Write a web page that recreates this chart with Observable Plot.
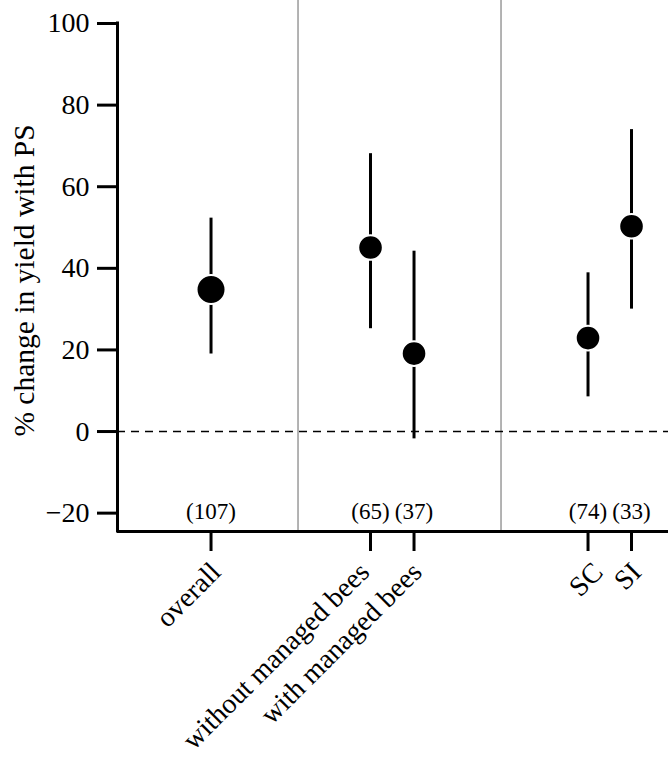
<!DOCTYPE html>
<html><head><meta charset="utf-8">
<script src="https://cdn.jsdelivr.net/npm/d3@7"></script>
<script src="https://cdn.jsdelivr.net/npm/@observablehq/plot@0.6"></script>
<style>body{margin:0;background:#fff}</style>
</head><body><div id="chart"></div>
<script>
// Data
const groups = ["overall", "without managed bees", "with managed bees", "SC", "SI"];
const estimate = [34.8, 45.1, 19.1, 22.9, 50.3];
const lower = [19.0, 25.2, -1.8, 8.5, 30.0];
const upper = [52.3, 68.1, 44.2, 38.9, 74.0];
const nObs = ["(107)", "(65)", "(37)", "(74)", "(33)"];
const yTicks = [-20, 0, 20, 40, 60, 80, 100];
const yLabel = "% change in yield with PS";

// Layout: slots on a numeric x axis, separator slots, and label nudges (px)
const slot = [0, 11, 14, 26, 29];
const separators = [6, 20];
const labelNudge = [5, -6, 3, 10, 5];

const rows = groups.map((g, i) => ({group: g, slot: slot[i], est: estimate[i], lo: lower[i], hi: upper[i], n: nObs[i], nudge: labelNudge[i]}));
const xDomain = [-6.45, 31.55];
const yDomain = [-24.5, 105.64];

const chart = Plot.plot({
  width: 668, height: 764,
  marginLeft: 117, marginRight: 0, marginTop: 0, marginBottom: 233,
  style: {fontFamily: "Liberation Serif", fontSize: "28px", background: "#fff", color: "#000"},
  x: {domain: xDomain, axis: null},
  y: {domain: yDomain, axis: null},
  marks: [
    Plot.ruleX(separators, {stroke: "#9a9a9a", strokeWidth: 1.5}),
    Plot.ruleY([0], {strokeDasharray: "8,6", strokeWidth: 1.5}),
    Plot.ruleX(rows, {x: "slot", y1: "lo", y2: "hi", strokeWidth: 3}),
    Plot.dot(rows.slice(0, 1), {x: "slot", y: "est", r: 14.5, fill: "#000", stroke: "#fff", strokeWidth: 2}),
    Plot.dot(rows.slice(1), {x: "slot", y: "est", r: 12.3, fill: "#000", stroke: "#fff", strokeWidth: 2}),
    Plot.ruleX([xDomain[0]], {y1: yTicks[yTicks.length - 1], y2: yDomain[0], strokeWidth: 3, strokeLinecap: "square"}),
    Plot.ruleY([yDomain[0]], {strokeWidth: 3}),
    Plot.axisY({anchor: "left", ticks: yTicks, tickSize: 20, tickPadding: 8, strokeWidth: 3, label: null}),
    Plot.axisX({anchor: "bottom", ticks: slot, tickSize: 20, tickFormat: () => "", strokeWidth: 3, label: null}),
    ...rows.map(r => Plot.text([r], {x: "slot", text: "group", frameAnchor: "bottom", rotate: -45, textAnchor: "end", lineAnchor: "middle", dx: r.nudge, dy: 36, fontSize: 28})),
    Plot.text(rows, {x: "slot", text: "n", frameAnchor: "bottom", textAnchor: "middle", dy: -13, fontSize: 23}),
    Plot.text([yLabel], {frameAnchor: "left", rotate: -90, textAnchor: "middle", dx: -84, dy: 14.5, lineAnchor: "bottom", fontSize: 29.5})
  ]
});
document.getElementById("chart").appendChild(chart);
</script>
</body></html>
